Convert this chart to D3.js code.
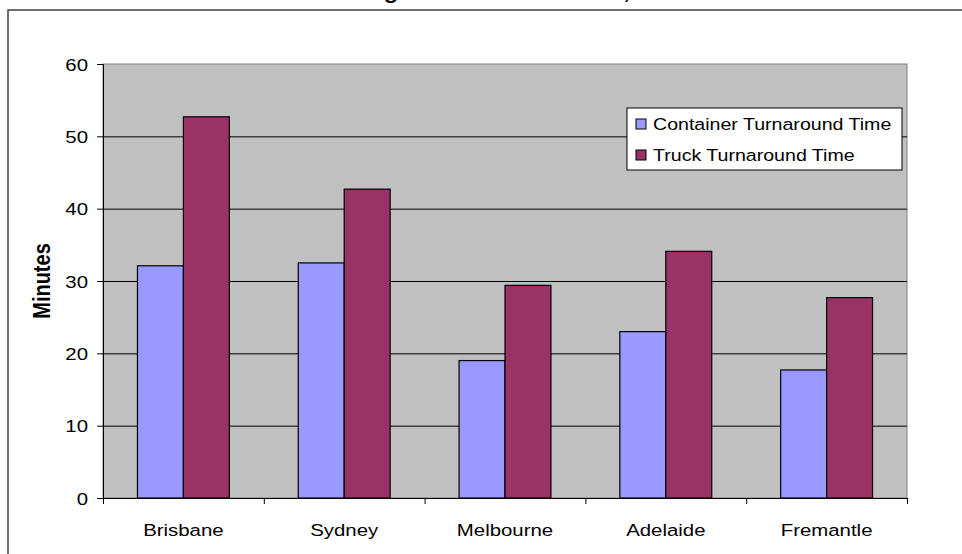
<!DOCTYPE html>
<html>
<head>
<meta charset="utf-8">
<script src="https://cdn.jsdelivr.net/npm/d3@7"></script>
<style>
  html, body { margin: 0; padding: 0; background: #ffffff; }
  svg { display: block; }
  text { font-family: "Liberation Sans", Arial, sans-serif; fill: #000; }
</style>
</head>
<body>
<svg id="chart" width="962" height="554"></svg>
<script>
// Port turnaround times by city (minutes)
const cities = ["Brisbane", "Sydney", "Melbourne", "Adelaide", "Fremantle"];
const seriesNames = ["Container Turnaround Time", "Truck Turnaround Time"];
const containerTimes = [32.1, 32.5, 19.0, 23.0, 17.7];
const truckTimes = [52.7, 42.7, 29.4, 34.1, 27.7];
const yTicks = [0, 10, 20, 30, 40, 50, 60];
const chartTitle = "Average Turnaround Times, 2005";
const yTitle = "Minutes";

const colors = { "Container Turnaround Time": "#9999FF", "Truck Turnaround Time": "#993366" };
const SX = 1.2; // horizontal text stretch

const svg = d3.select("#chart");
const plot = { left: 103, right: 907, top: 64, bottom: 498 };

// outer chart frame
svg.append("rect")
  .attr("x", 8).attr("y", 10).attr("width", 1000).attr("height", 600)
  .attr("fill", "#fff").attr("stroke", "#404040").attr("stroke-width", 1.5);

// title (sits above the frame)
svg.append("text")
  .attr("transform", `translate(319,-1) scale(${SX},1)`)
  .attr("font-size", 19.7).attr("font-weight", "bold")
  .text(chartTitle);

const x = d3.scaleBand().domain(cities).range([plot.left, plot.right]).padding(0);
const xs = d3.scaleBand().domain(seriesNames).range([0, x.bandwidth()])
  .paddingInner(0).paddingOuter(0.75);
const y = d3.scaleLinear().domain([0, 60]).range([plot.bottom, plot.top]);

// plot background
svg.append("rect")
  .attr("x", plot.left).attr("y", plot.top)
  .attr("width", plot.right - plot.left).attr("height", plot.bottom - plot.top)
  .attr("fill", "#C0C0C0").attr("stroke", "#808080").attr("stroke-width", 1);

// gridlines
const grid = svg.append("g")
  .attr("transform", `translate(${plot.left},0)`)
  .call(d3.axisLeft(y).tickValues(yTicks.filter(v => v > 0 && v < 60))
    .tickSize(-(plot.right - plot.left)).tickFormat(""));
grid.select(".domain").remove();
grid.selectAll(".tick line").attr("stroke", "#000").attr("stroke-width", 1);

// bars
const rows = cities.map((c, i) => ({ city: c, values: [
  { key: seriesNames[0], value: containerTimes[i] },
  { key: seriesNames[1], value: truckTimes[i] }
]}));

svg.append("g").selectAll("g").data(rows).join("g")
  .attr("transform", d => `translate(${x(d.city)},0)`)
  .selectAll("rect").data(d => d.values).join("rect")
  .attr("x", d => xs(d.key))
  .attr("y", d => y(d.value))
  .attr("width", xs.bandwidth())
  .attr("height", d => y(0) - y(d.value))
  .attr("fill", d => colors[d.key])
  .attr("stroke", "#000").attr("stroke-width", 1.2);

// y axis
const yAxis = svg.append("g")
  .attr("transform", `translate(${plot.left},0)`)
  .call(d3.axisLeft(y).tickValues(yTicks).tickSize(6).tickPadding(0));
yAxis.select(".domain").attr("stroke", "#000");
yAxis.selectAll(".tick line").attr("stroke", "#000");
yAxis.selectAll(".tick text")
  .attr("font-size", 17).attr("font-family", "Liberation Sans, Arial, sans-serif")
  .attr("x", -15 / SX).attr("dy", "0.36em")
  .attr("transform", `scale(${SX},1)`);

// x axis: boundary ticks
const xb = d3.scaleLinear().domain([0, cities.length]).range([plot.left, plot.right]);
const xAxisTicks = svg.append("g")
  .attr("transform", `translate(0,${plot.bottom})`)
  .call(d3.axisBottom(xb).ticks(cities.length).tickSize(6).tickFormat(""));
xAxisTicks.select(".domain").attr("stroke", "#000");
xAxisTicks.selectAll(".tick line").attr("stroke", "#000");

// x axis: category labels
const xAxis = svg.append("g")
  .attr("transform", `translate(0,${plot.bottom})`)
  .call(d3.axisBottom(x).tickSize(0).tickPadding(0));
xAxis.select(".domain").remove();
xAxis.selectAll(".tick text")
  .attr("font-size", 17).attr("font-family", "Liberation Sans, Arial, sans-serif")
  .attr("y", 38).attr("dy", 0)
  .attr("transform", `scale(${SX},1)`)
  .attr("x", 0);
xAxis.selectAll(".tick").each(function() {
  const t = d3.select(this);
  const m = /translate\(([-\d.]+),/.exec(t.attr("transform"));
  const cx = +m[1];
  t.attr("transform", `translate(${cx},0)`);
});

// y axis title
svg.append("text")
  .attr("transform", `translate(50,${(plot.top + plot.bottom) / 2}) scale(${SX},1) rotate(-90)`)
  .attr("text-anchor", "middle")
  .attr("font-size", 20).attr("font-weight", "bold")
  .text(yTitle);

// legend
const lg = svg.append("g");
lg.append("rect")
  .attr("x", 627).attr("y", 108).attr("width", 275).attr("height", 62)
  .attr("fill", "#fff").attr("stroke", "#000").attr("stroke-width", 1);
const li = lg.selectAll("g.item").data(seriesNames).join("g")
  .attr("class", "item")
  .attr("transform", (d, i) => `translate(636,${124 + i * 31})`);
li.append("rect")
  .attr("x", 0).attr("y", -5).attr("width", 10).attr("height", 10)
  .attr("fill", d => colors[d]).attr("stroke", "#000").attr("stroke-width", 1);
li.append("text")
  .attr("transform", `translate(17,0) scale(${SX * 0.96},1)`)
  .attr("dy", "0.36em")
  .attr("font-size", 17)
  .text(d => d);
</script>
</body>
</html>
